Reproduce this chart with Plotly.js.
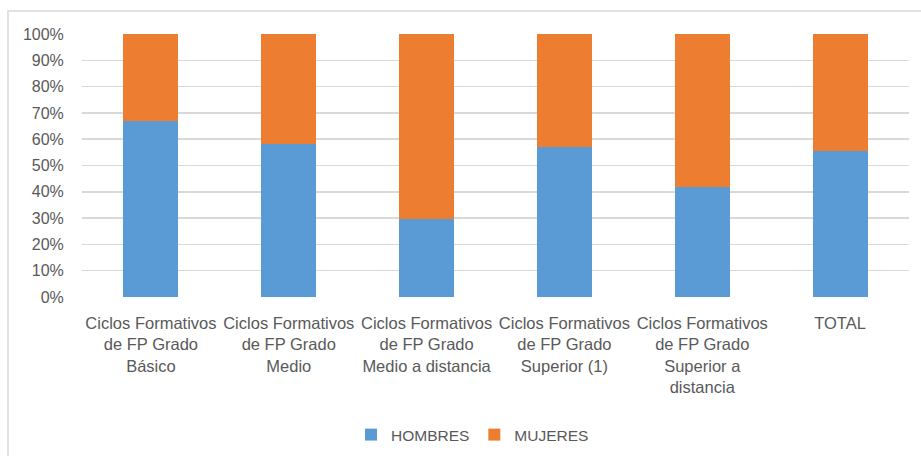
<!DOCTYPE html>
<html>
<head>
<meta charset="utf-8">
<script src="https://cdn.plot.ly/plotly-3.0.1.min.js"></script>
<style>
  html, body { margin: 0; padding: 0; background: #ffffff; }
  #chart { width: 921px; height: 456px; }
</style>
</head>
<body>
<div id="chart"></div>
<script>
const categories = [
  "Ciclos Formativos<br>de FP Grado<br>Básico",
  "Ciclos Formativos<br>de FP Grado<br>Medio",
  "Ciclos Formativos<br>de FP Grado<br>Medio a distancia",
  "Ciclos Formativos<br>de FP Grado<br>Superior (1)",
  "Ciclos Formativos<br>de FP Grado<br>Superior a<br>distancia",
  "TOTAL"
];
const hombres = [67, 58, 29.5, 57, 42, 55.5];
const mujeres = [33, 42, 70.5, 43, 58, 44.5];
const yTickVals = [0, 10, 20, 30, 40, 50, 60, 70, 80, 90, 100];
const yTickText = ["0%", "10%", "20%", "30%", "40%", "50%", "60%", "70%", "80%", "90%", "100%"];

const textColor = "#595959";
const fontFamily = "'Liberation Sans', Arial, sans-serif";

const traces = [
  {
    type: "bar", name: "HOMBRES", x: categories, y: hombres,
    marker: { color: "#5B9BD5" }, hoverinfo: "skip"
  },
  {
    type: "bar", name: "MUJERES", x: categories, y: mujeres,
    marker: { color: "#ED7D31" }, hoverinfo: "skip"
  }
];

const layout = {
  width: 921, height: 456,
  margin: { l: 82, r: 12, t: 34, b: 159, pad: 0 },
  paper_bgcolor: "#ffffff", plot_bgcolor: "#ffffff",
  barmode: "stack",
  bargap: 0.6,
  font: { family: fontFamily, color: textColor, size: 16 },
  showlegend: true,
  legend: {
    orientation: "h",
    xref: "container", yref: "container",
    x: 0.513, xanchor: "center",
    y: 0.046, yanchor: "middle",
    font: { size: 15.5, color: textColor, family: fontFamily },
    traceorder: "normal",
    itemwidth: 30
  },
  xaxis: {
    type: "category",
    showgrid: false, zeroline: false, showline: false,
    ticks: "outside", ticklen: 11, tickcolor: "rgba(0,0,0,0)",
    tickfont: { size: 16.5, color: textColor, family: fontFamily },
    tickangle: 0,
    fixedrange: true
  },
  yaxis: {
    range: [0, 100],
    tickvals: yTickVals, ticktext: yTickText,
    showgrid: true, gridcolor: "#d9d9d9", gridwidth: 1.5,
    zeroline: false, showline: false,
    ticks: "outside", ticklen: 14, tickcolor: "rgba(0,0,0,0)",
    tickfont: { size: 16, color: textColor, family: fontFamily },
    fixedrange: true
  },
  shapes: [
    {
      type: "rect", xref: "paper", yref: "paper",
      x0: -0.0895, x1: 1.03, y0: -0.65, y1: 1.0875,
      line: { color: "#d9d9d9", width: 1.5 },
      fillcolor: "rgba(0,0,0,0)", layer: "below"
    }
  ]
};

Plotly.newPlot("chart", traces, layout, { staticPlot: true, displayModeBar: false });
</script>
</body>
</html>
